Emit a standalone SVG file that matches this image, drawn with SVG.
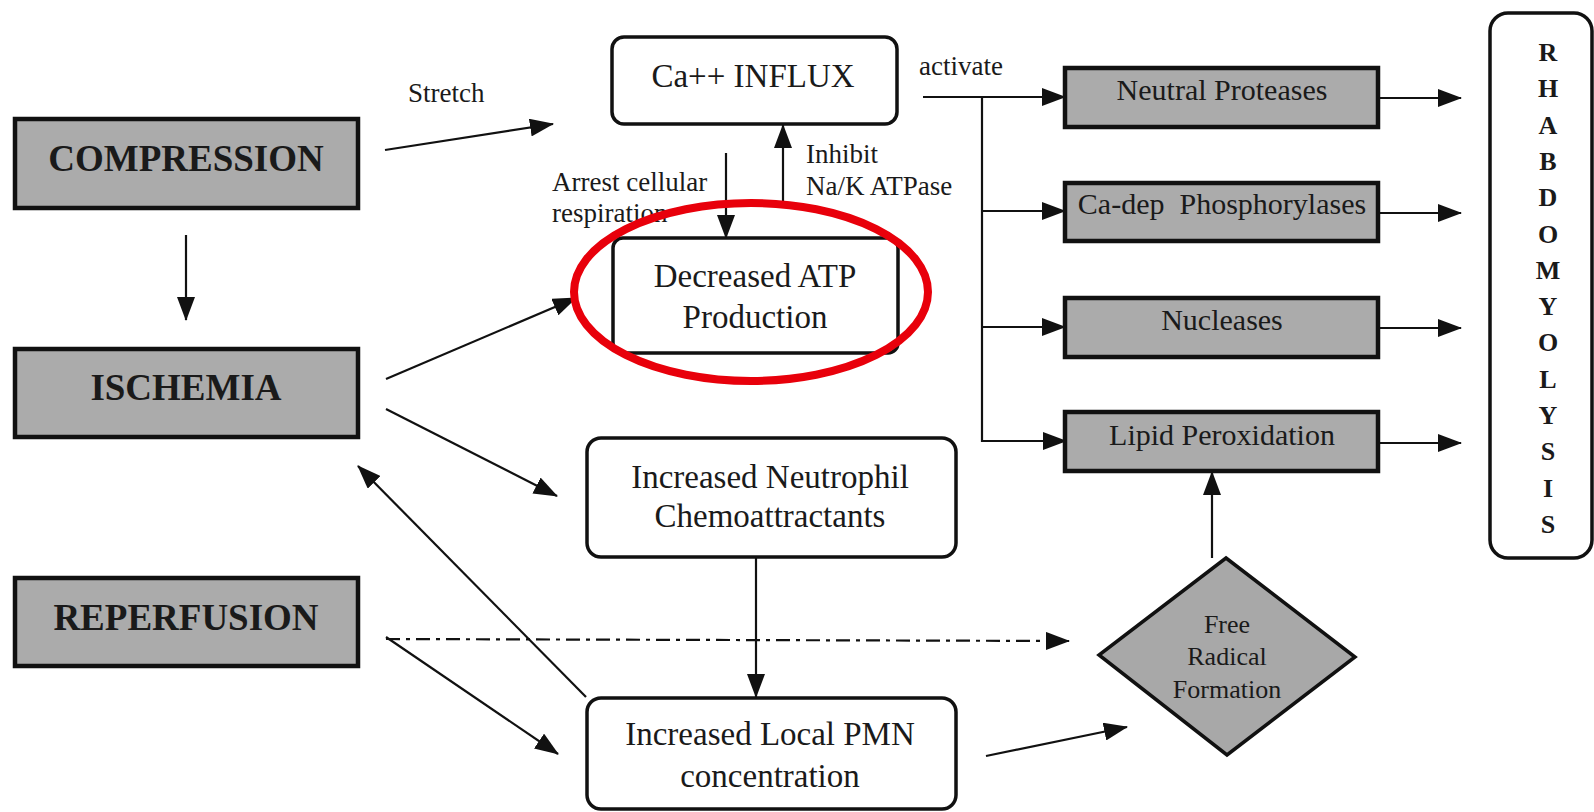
<svg xmlns="http://www.w3.org/2000/svg" width="1594" height="812" viewBox="0 0 1594 812">
<defs>
<style>
text{font-family:"Liberation Serif","Times New Roman",serif;fill:#1a1a1a}
.gbox{fill:#ababab;stroke:#111;stroke-width:4.5}
.wbox{fill:#fff;stroke:#111;stroke-width:3.5}
.big{font-size:37px;font-weight:bold;text-anchor:middle}
.mid{font-size:33px;text-anchor:middle}
.rt{font-size:30px;text-anchor:middle}
.lbl{font-size:27px}
.dia{font-size:26px;text-anchor:middle}
.let{font-size:26px;font-weight:bold;text-anchor:middle}
.c{fill:none;stroke:#111;stroke-width:2.2;marker-end:url(#ah)}
.cl{fill:none;stroke:#111;stroke-width:2.2}
</style>
<marker id="ah" markerUnits="userSpaceOnUse" markerWidth="24" markerHeight="18" refX="23" refY="9" orient="auto">
<path d="M0,0 L24,9 L0,18 z" fill="#111"/>
</marker>
</defs>
<rect width="1594" height="812" fill="#fff"/>

<g id="connectors">
<line class="c" x1="186" y1="235" x2="186" y2="320"/>
<line class="c" x1="385" y1="150" x2="553" y2="124"/>
<line class="c" x1="386" y1="379" x2="576" y2="298"/>
<line class="c" x1="386" y1="409" x2="557" y2="496"/>
<line class="c" x1="586" y1="697" x2="358" y2="466"/>
<line class="c" x1="386" y1="637" x2="558" y2="754"/>
<line class="c" x1="386" y1="639" x2="1069" y2="641" stroke-width="3.4" stroke-dasharray="14 6 4 6"/>
<line class="c" x1="726" y1="153" x2="726" y2="238"/>
<line class="c" x1="783" y1="203" x2="783" y2="125"/>
<line class="c" x1="923" y1="97" x2="1065" y2="97"/>
<line class="cl" x1="982" y1="97" x2="982" y2="442"/>
<line class="c" x1="982" y1="211" x2="1065" y2="211"/>
<line class="c" x1="982" y1="327" x2="1065" y2="327"/>
<line class="c" x1="982" y1="441" x2="1066" y2="441"/>
<line class="c" x1="1378" y1="98" x2="1461" y2="98"/>
<line class="c" x1="1378" y1="213" x2="1461" y2="213"/>
<line class="c" x1="1378" y1="328" x2="1461" y2="328"/>
<line class="c" x1="1378" y1="443" x2="1461" y2="443"/>
<line class="c" x1="756" y1="557" x2="756" y2="697"/>
<line class="c" x1="986" y1="756" x2="1127" y2="727"/>
<line class="c" x1="1212" y1="558" x2="1212" y2="472"/>
<text class="lbl" x="408" y="102">Stretch</text>
<text class="lbl" x="552" y="191">Arrest cellular</text>
<text class="lbl" x="552" y="222">respiration</text>
<text class="lbl" x="806" y="163">Inhibit</text>
<text class="lbl" x="806" y="195">Na/K ATPase</text>
<text class="lbl" x="919" y="75">activate</text>
</g>

<g id="compression">
<rect class="gbox" x="15" y="119" width="343" height="89"/>
<text class="big" x="186" y="171">COMPRESSION</text>
</g>
<g id="ischemia">
<rect class="gbox" x="15" y="349" width="343" height="88"/>
<text class="big" x="186" y="400">ISCHEMIA</text>
</g>
<g id="reperfusion">
<rect class="gbox" x="15" y="578" width="343" height="88"/>
<text class="big" x="186" y="630">REPERFUSION</text>
</g>

<g id="ca-influx">
<rect class="wbox" x="612" y="37" width="285" height="87" rx="12"/>
<text class="mid" x="753" y="87">Ca++ INFLUX</text>
</g>
<g id="decreased-atp">
<rect class="wbox" x="613" y="238" width="285" height="115" rx="10"/>
<text class="mid" x="755" y="287">Decreased ATP</text>
<text class="mid" x="755" y="328">Production</text>
</g>
<g id="neutrophil">
<rect class="wbox" x="587" y="438" width="369" height="119" rx="14"/>
<text class="mid" x="770" y="488" font-size="34">Increased Neutrophil</text>
<text class="mid" x="770" y="527" font-size="34">Chemoattractants</text>
</g>
<g id="pmn">
<rect class="wbox" x="587" y="698" width="369" height="111" rx="14"/>
<text class="mid" x="770" y="745" font-size="34">Increased Local PMN</text>
<text class="mid" x="770" y="787" font-size="34">concentration</text>
</g>

<g id="neutral-proteases">
<rect class="gbox" x="1065" y="68" width="313" height="59"/>
<text class="rt" x="1222" y="100">Neutral Proteases</text>
</g>
<g id="ca-dep">
<rect class="gbox" x="1065" y="183" width="313" height="58"/>
<text class="rt" x="1222" y="214">Ca-dep&#160; Phosphorylases</text>
</g>
<g id="nucleases">
<rect class="gbox" x="1065" y="298" width="313" height="59"/>
<text class="rt" x="1222" y="330">Nucleases</text>
</g>
<g id="lipid">
<rect class="gbox" x="1065" y="412" width="313" height="59"/>
<text class="rt" x="1222" y="445">Lipid Peroxidation</text>
</g>

<g id="free-radical">
<polygon points="1226,558 1355,657 1227,755 1099,655" fill="#a8a8a8" stroke="#111" stroke-width="3.5"/>
<text class="dia" x="1227" y="633">Free</text>
<text class="dia" x="1227" y="665">Radical</text>
<text class="dia" x="1227" y="698">Formation</text>
</g>

<g id="rhabdomyolysis">
<rect class="wbox" x="1490" y="13" width="102" height="545" rx="18"/>
<text class="let" x="1548" y="61">R</text>
<text class="let" x="1548" y="97">H</text>
<text class="let" x="1548" y="134">A</text>
<text class="let" x="1548" y="170">B</text>
<text class="let" x="1548" y="206">D</text>
<text class="let" x="1548" y="243">O</text>
<text class="let" x="1548" y="279">M</text>
<text class="let" x="1548" y="315">Y</text>
<text class="let" x="1548" y="351">O</text>
<text class="let" x="1548" y="388">L</text>
<text class="let" x="1548" y="424">Y</text>
<text class="let" x="1548" y="460">S</text>
<text class="let" x="1548" y="497">I</text>
<text class="let" x="1548" y="533">S</text>
</g>

<g id="highlight">
<ellipse cx="751" cy="292" rx="177" ry="89" fill="none" stroke="#e8000b" stroke-width="8"/>
</g>
</svg>
